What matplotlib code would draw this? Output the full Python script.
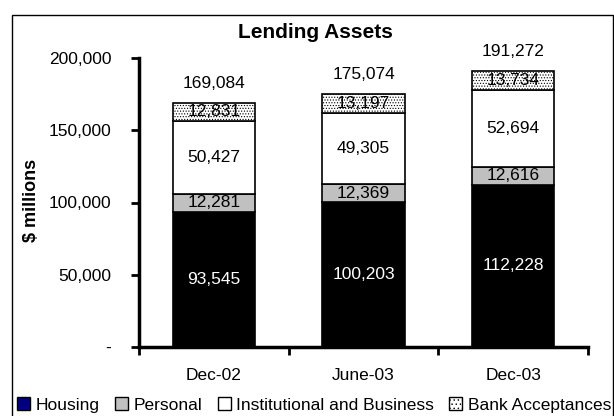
import matplotlib
matplotlib.use("Agg")
import matplotlib.pyplot as plt
from matplotlib.patches import Rectangle, Patch
import numpy as np

categories = ["Dec-02", "June-03", "Dec-03"]
housing = [93545, 100203, 112228]
personal = [12281, 12369, 12616]
institutional = [50427, 49305, 52694]
bank_acceptances = [12831, 13197, 13734]
totals = [169084, 175074, 191272]
series_names = ["Housing", "Personal", "Institutional and Business", "Bank Acceptances"]
y_ticks = [0, 50000, 100000, 150000, 200000]
y_tick_labels = ["-", "50,000", "100,000", "150,000", "200,000"]

plt.rcParams['font.family'] = ['Liberation Sans', 'DejaVu Sans']
plt.rcParams['hatch.color'] = '#909090'
plt.rcParams['hatch.linewidth'] = 0.5

fig = plt.figure(figsize=(6.14, 4.16), dpi=100)
W, H = 614, 416
ax = fig.add_axes([139/W, 1-347/H, (588-139)/W, (347-58)/H])

x = np.arange(len(categories))
bw = 0.55
fs = 12.5
b1 = ax.bar(x, housing, bw, color='black', edgecolor='black', linewidth=1.2)
b2 = ax.bar(x, personal, bw, bottom=housing, color='#c0c0c0', edgecolor='black', linewidth=1.2)
bot3 = np.array(housing) + np.array(personal)
b3 = ax.bar(x, institutional, bw, bottom=bot3, color='white', edgecolor='black', linewidth=1.2)
bot4 = bot3 + np.array(institutional)
b4 = ax.bar(x, bank_acceptances, bw, bottom=bot4, color='white', edgecolor='black', linewidth=1.2, hatch='......')

def fmt(v):
    return f"{v:,}"

for i in range(len(categories)):
    ax.text(x[i], housing[i]/2, fmt(housing[i]), ha='center', va='center', color='white', fontsize=fs)
    ax.text(x[i], housing[i] + personal[i]/2, fmt(personal[i]), ha='center', va='center', color='black', fontsize=fs)
    ax.text(x[i], bot3[i] + institutional[i]/2, fmt(institutional[i]), ha='center', va='center', color='black', fontsize=fs)
    ax.text(x[i], bot4[i] + bank_acceptances[i]/2, fmt(bank_acceptances[i]), ha='center', va='center', color='black', fontsize=fs)
    ax.annotate(fmt(totals[i]), (x[i], totals[i]), xytext=(0, 14), textcoords='offset points',
                ha='center', va='center', fontsize=fs)

ax.set_xlim(-0.5, 2.5)
ax.set_ylim(0, 200000)
ax.set_yticks(y_ticks)
ax.set_yticklabels(y_tick_labels, fontsize=fs)
ax.set_xticks(x)
ax.set_xticklabels(categories, fontsize=fs)
ax.set_xticks([-0.5, 0.5, 1.5, 2.5], minor=True)
ax.tick_params(axis='x', which='major', length=0, pad=15)
ax.tick_params(axis='x', which='minor', length=6, width=2, direction='out')
ax.tick_params(axis='y', which='major', length=6, width=2, direction='out', pad=14)
for s in ['top', 'right']:
    ax.spines[s].set_visible(False)
for s in ['left', 'bottom']:
    ax.spines[s].set_linewidth(2.5)
ax.patch.set_alpha(0)

fig.text(315/W, 1-33/H, "Lending Assets", ha='center', va='center', fontsize=15, fontweight='bold')
fig.text(32/W, 1-200/H, "$ millions", ha='center', va='center', rotation=90, fontsize=13, fontweight='bold')

# chart area frame
fig.add_artist(Rectangle((12/W, -0.2), (613-12)/W, 1.2 - 15/H, transform=fig.transFigure,
                         fill=False, edgecolor='black', linewidth=1.0, clip_on=False))

handles = [Patch(facecolor='#000080', edgecolor='black'),
           Patch(facecolor='#c0c0c0', edgecolor='black'),
           Patch(facecolor='white', edgecolor='black'),
           Patch(facecolor='white', edgecolor='black', hatch='....')]
fig.legend(handles, series_names, loc='center', bbox_to_anchor=(314/W, 1-405/H), ncol=4,
           frameon=False, fontsize=fs, handlelength=0.75, handleheight=0.75,
           handletextpad=0.3, columnspacing=0.9, borderpad=0, borderaxespad=0)

fig.savefig("out.png", dpi=100)
